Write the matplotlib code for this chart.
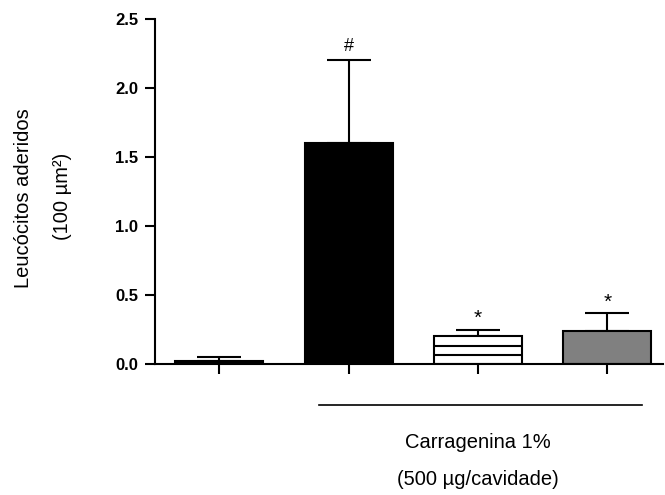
import matplotlib
matplotlib.use("Agg")
import matplotlib.pyplot as plt
import numpy as np

plt.rcParams['font.family'] = ['Liberation Sans', 'DejaVu Sans']

# Adherent leukocytes per group (mean and upper SEM)
groups = ["Controle", "Carragenina", "Tratamento A", "Tratamento B"]
means = [0.02, 1.60, 0.20, 0.24]
errors = [0.03, 0.60, 0.05, 0.13]
marks = ["", "#", "*", "*"]
y_ticks = [0.0, 0.5, 1.0, 1.5, 2.0, 2.5]

fig = plt.figure(figsize=(6.65, 4.95), dpi=100)
ax = fig.add_axes([0.2326, 0.2646, 0.997 - 0.2326, 0.9616 - 0.2646])

x = np.arange(len(groups))
width = 0.68
faces = ["black", "black", "white", "#808080"]
bars = ax.bar(x, means, width=width, color=faces, edgecolor="black",
              linewidth=1.5, zorder=2)

# stripes inside the white bar
b = bars[2]
for frac in (1 / 3, 2 / 3):
    ax.plot([b.get_x(), b.get_x() + b.get_width()],
            [means[2] * frac, means[2] * frac],
            color="black", linewidth=1.5, zorder=3, solid_capstyle="butt")

ax.errorbar(x, means, yerr=[np.zeros(len(means)), errors], fmt="none",
            ecolor="black", elinewidth=1.5, capsize=15.5, capthick=1.5,
            zorder=1)

for xi, m, e, s in zip(x, means, errors, marks):
    if s:
        ax.annotate(s, xy=(xi, m + e), xytext=(0, 4 if s == "#" else 1),
                    textcoords="offset points", ha="center", va="bottom",
                    fontsize=13 if s == "#" else 15)

ax.set_xlim(-0.5, 3.43)
ax.set_ylim(0, 2.5)
ax.set_yticks(y_ticks)
ax.set_yticklabels([f"{t:.1f}" for t in y_ticks], fontweight="bold",
                   fontsize=12)
ax.set_xticks(x)
ax.set_xticklabels([])

for side in ("top", "right"):
    ax.spines[side].set_visible(False)
for side in ("left", "bottom"):
    ax.spines[side].set_linewidth(1.5)
ax.tick_params(axis="both", direction="out", length=7, width=1.5, pad=5)

# bracket under the carrageenan groups
ax.plot([0.77, 3.27], [-0.295, -0.295], color="black", linewidth=1.2,
        clip_on=False)
ax.text(2.0, -0.57, "Carragenina 1%", ha="center", va="center",
        fontsize=14.5, transform=ax.transData)
ax.text(2.0, -0.84, "(500 µg/cavidade)", ha="center", va="center",
        fontsize=14.5, transform=ax.transData)

fig.text(24 / 665, 1 - 198 / 495, "Leucócitos aderidos", rotation=90,
         ha="center", va="center", fontsize=14.5)
fig.text(63 / 665, 1 - 196 / 495, "(100 µm²)", rotation=90,
         ha="center", va="center", fontsize=14.5)

fig.savefig("out.png", dpi=100)
